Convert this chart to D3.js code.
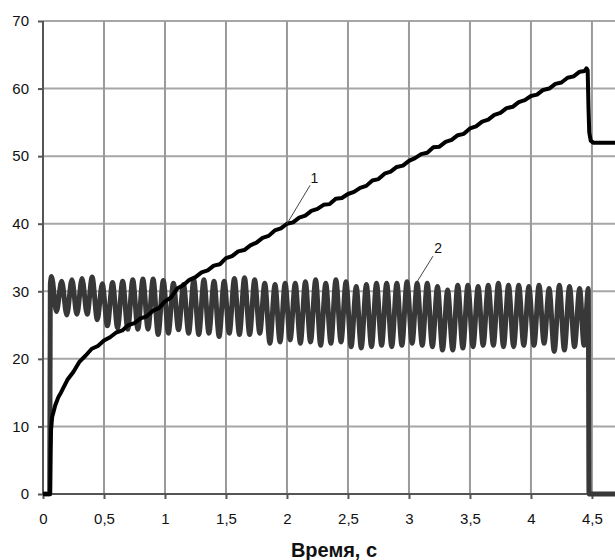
<!DOCTYPE html>
<html>
<head>
<meta charset="utf-8">
<script src="https://cdn.jsdelivr.net/npm/d3@7"></script>
<style>
  body { margin: 0; background: #fff; }
  svg { display: block; font-family: Arial, "Liberation Sans", sans-serif; }
</style>
</head>
<body>
<svg id="chart" width="615" height="560"></svg>
<script>
// tick values
var xTicks = [0, 0.5, 1, 1.5, 2, 2.5, 3, 3.5, 4, 4.5];
var yTicks = [0, 10, 20, 30, 40, 50, 60, 70];
var xTitle = "Время, с";

// curve 1 : [time, value]
var series1 = [
  [0, 0], [0.058, 0], [0.062, 6], [0.066, 9.5], [0.075, 11.4], [0.1, 13.1], [0.125, 14.3], [0.15, 15.1],
  [0.2, 16.9], [0.25, 18.1], [0.3, 19.6], [0.35, 20.5], [0.4, 21.5], [0.45, 21.9], [0.5, 22.7],
  [0.55, 23.2], [0.6, 23.9], [0.65, 24.2], [0.7, 25.0], [0.75, 25.3], [0.8, 26.0], [0.85, 26.3],
  [0.9, 27.1], [0.95, 27.5], [1.0, 28.5], [1.05, 29.1], [1.1, 30.4], [1.15, 30.9], [1.2, 31.7],
  [1.25, 32.1], [1.3, 32.8], [1.35, 33.1], [1.4, 33.8], [1.45, 34.0], [1.5, 34.9], [1.55, 35.2],
  [1.6, 35.9], [1.65, 36.1], [1.7, 36.8], [1.75, 37.2], [1.8, 37.9], [1.85, 38.2], [1.9, 39.0],
  [1.95, 39.3], [2.0, 40.0], [2.05, 40.2], [2.1, 40.9], [2.15, 41.2], [2.2, 41.9], [2.25, 42.2],
  [2.3, 42.8], [2.35, 42.9], [2.4, 43.7], [2.45, 43.8], [2.5, 44.4], [2.55, 44.7], [2.6, 45.3],
  [2.65, 45.6], [2.7, 46.4], [2.75, 46.6], [2.8, 47.4], [2.85, 47.7], [2.9, 48.4], [2.95, 48.6],
  [3.0, 49.3], [3.05, 49.7], [3.1, 50.3], [3.15, 50.5], [3.2, 51.3], [3.25, 51.4], [3.3, 52.1],
  [3.35, 52.4], [3.4, 53.1], [3.45, 53.3], [3.5, 54.1], [3.55, 54.4], [3.6, 55.1], [3.65, 55.4],
  [3.7, 56.1], [3.75, 56.4], [3.8, 57.1], [3.85, 57.3], [3.9, 58.0], [3.95, 58.3], [4.0, 58.9],
  [4.05, 59.1], [4.1, 59.8], [4.15, 60.0], [4.2, 60.7], [4.25, 60.9], [4.3, 61.6], [4.35, 61.8],
  [4.4, 62.5], [4.44, 62.6], [4.455, 63.0], [4.465, 62.7], [4.472, 57], [4.478, 53.5], [4.49, 52.3],
  [4.51, 52.0], [4.7, 52.0]
];

// curve 2 : alternating peaks and troughs [time, value]
var series2 = [
  [0, 0], [0.055, 0], [0.06, 31.0], [0.07, 32.2], [0.11, 27.0],
  [0.153, 31.5], [0.195, 26.5], [0.237, 31.7], [0.278, 26.6], [0.32, 31.9], [0.362, 26.6],
  [0.403, 32.1], [0.445, 25.8], [0.486, 31.1], [0.528, 24.9], [0.57, 31.3], [0.611, 24.6],
  [0.653, 31.5], [0.695, 24.4], [0.736, 31.7], [0.778, 24.4], [0.819, 31.8], [0.861, 24.4],
  [0.903, 31.8], [0.944, 23.6], [0.986, 31.6], [1.028, 23.8], [1.069, 31.2], [1.111, 24.3],
  [1.152, 31.0], [1.194, 23.8], [1.236, 31.7], [1.277, 23.6], [1.319, 31.7], [1.36, 23.8],
  [1.402, 31.5], [1.444, 23.3], [1.485, 31.5], [1.527, 23.8], [1.569, 31.9], [1.61, 23.6],
  [1.652, 32.0], [1.694, 23.6], [1.735, 31.7], [1.777, 23.8], [1.818, 31.2], [1.86, 22.3],
  [1.902, 31.0], [1.943, 22.5], [1.985, 31.2], [2.026, 22.8], [2.068, 31.2], [2.11, 22.3],
  [2.151, 31.4], [2.193, 22.5], [2.235, 31.7], [2.276, 22.0], [2.318, 31.2], [2.36, 22.3],
  [2.401, 31.7], [2.443, 22.5], [2.484, 31.4], [2.526, 21.8], [2.568, 30.7], [2.609, 21.6],
  [2.651, 31.0], [2.693, 21.8], [2.734, 31.2], [2.776, 22.0], [2.817, 31.2], [2.859, 21.8],
  [2.901, 31.2], [2.942, 22.0], [2.984, 31.4], [3.026, 22.3], [3.067, 31.2], [3.109, 22.0],
  [3.15, 31.2], [3.192, 21.8], [3.234, 30.7], [3.275, 21.3], [3.317, 30.2], [3.359, 21.3],
  [3.4, 30.9], [3.442, 21.6], [3.483, 30.9], [3.525, 21.8], [3.567, 30.7], [3.608, 22.0],
  [3.65, 30.9], [3.692, 22.0], [3.733, 31.2], [3.775, 21.8], [3.816, 30.9], [3.858, 21.8],
  [3.9, 30.9], [3.941, 22.0], [3.983, 30.7], [4.025, 22.0], [4.066, 30.9], [4.108, 22.3],
  [4.149, 30.4], [4.191, 21.1], [4.233, 30.9], [4.274, 21.3], [4.316, 30.7], [4.357, 21.8],
  [4.399, 30.4], [4.435, 22.0], [4.47, 30.4], [4.476, 0], [4.7, 0]
];

// label leaders: [from, to, label position]
var callouts = [
  { text: "1", from: [2.0, 40.0], to: [2.19, 45.7], at: [2.225, 46.0] },
  { text: "2", from: [3.066, 31.4], to: [3.197, 35.2], at: [3.24, 35.6] }
];

var svg = d3.select("#chart");
var x = d3.scaleLinear().domain([0, 4.689]).range([43, 615]);
var y = d3.scaleLinear().domain([0, 70]).range([494, 21]);

// grid
svg.append("g").selectAll("line")
  .data(yTicks.filter(function (d) { return d > 0; }))
  .enter().append("line")
  .attr("x1", x(0)).attr("x2", 615)
  .attr("y1", function (d) { return y(d); }).attr("y2", function (d) { return y(d); })
  .attr("stroke", "#a6a6a6").attr("stroke-width", 2);

svg.append("g").selectAll("line")
  .data(xTicks.filter(function (d) { return d > 0; }))
  .enter().append("line")
  .attr("x1", function (d) { return x(d); }).attr("x2", function (d) { return x(d); })
  .attr("y1", y(70)).attr("y2", y(0))
  .attr("stroke", "#9a9a9a").attr("stroke-width", 2);

// axes
var fmt = function (d) { return String(d).replace(".", ","); };

var yAxis = svg.append("g")
  .attr("transform", "translate(" + x(0) + ",0)")
  .call(d3.axisLeft(y).tickValues(yTicks).tickSize(5).tickPadding(9));
var xAxis = svg.append("g")
  .attr("transform", "translate(0," + y(0) + ")")
  .call(d3.axisBottom(x).tickValues(xTicks).tickFormat(fmt).tickSize(5).tickPadding(14));

[yAxis, xAxis].forEach(function (g) {
  g.select(".domain").attr("stroke", "#555").attr("stroke-width", 2);
  g.selectAll(".tick line").attr("stroke", "#555").attr("stroke-width", 2);
  g.selectAll(".tick text").attr("fill", "#111").style("font-size", "15px")
    .style("font-family", "Arial, 'Liberation Sans', sans-serif");
});
xAxis.select(".domain").attr("d", "M" + x(0) + ",0H615");
yAxis.select(".domain").attr("d", "M0," + y(0) + "V" + y(70));

// curves
var line = d3.line()
  .x(function (d) { return x(d[0]); })
  .y(function (d) { return y(d[1]); });

svg.append("path")
  .datum(series2)
  .attr("fill", "none")
  .attr("stroke", "#383838")
  .attr("stroke-width", 5)
  .attr("stroke-linejoin", "round")
  .attr("d", line.curve(d3.curveMonotoneX));

svg.append("path")
  .datum(series1)
  .attr("fill", "none")
  .attr("stroke", "#000")
  .attr("stroke-width", 4)
  .attr("stroke-linejoin", "round")
  .attr("d", line.curve(d3.curveLinear));

// callouts
var co = svg.append("g").selectAll("g").data(callouts).enter().append("g");
co.append("line")
  .attr("x1", function (d) { return x(d.from[0]); }).attr("y1", function (d) { return y(d.from[1]); })
  .attr("x2", function (d) { return x(d.to[0]); }).attr("y2", function (d) { return y(d.to[1]); })
  .attr("stroke", "#444").attr("stroke-width", 1);
co.append("text")
  .attr("x", function (d) { return x(d.at[0]); })
  .attr("y", function (d) { return y(d.at[1]); })
  .attr("text-anchor", "middle")
  .style("font-size", "14px")
  .attr("fill", "#111")
  .text(function (d) { return d.text; });

// x title
svg.append("text")
  .attr("x", 334).attr("y", 557)
  .attr("text-anchor", "middle")
  .style("font-size", "20px").style("font-weight", "bold")
  .attr("fill", "#111")
  .text(xTitle);
</script>
</body>
</html>
